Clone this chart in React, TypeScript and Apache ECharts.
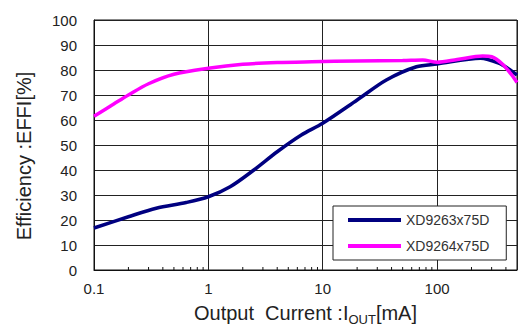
import React, { useEffect, useRef } from "react";
import * as echarts from "echarts";

const seriesNames = ["XD9263x75D", "XD9264x75D"];
const currentNavy = [0.1, 0.2, 0.35, 0.64, 1, 1.55, 2.5, 4, 6.5, 10, 20, 36, 66, 100, 240, 350, 420, 500];
const effNavy = [16.8, 21.3, 24.7, 27, 29.3, 33.3, 40, 47.3, 54, 58.7, 68, 76, 81.3, 82.4, 84.7, 82.7, 80.5, 78];
const currentPink = [0.1, 0.15, 0.2, 0.3, 0.5, 1, 2, 4, 8, 20, 50, 75, 100, 150, 250, 300, 370, 450, 500];
const effPink = [61.5, 66.5, 70, 74.5, 78.3, 80.7, 82.3, 83, 83.3, 83.6, 83.8, 84, 83.1, 84.2, 85.6, 85.3, 82.5, 78, 75];
const xTickLabels = [0.1, 1, 10, 100];
const minorTicks = [0.2, 0.3, 0.4, 0.5, 0.6, 0.7, 0.8, 0.9, 2, 3, 4, 5, 6, 7, 8, 9, 20, 30, 40, 50, 60, 70, 80, 90, 200, 300, 400];

const FONT = "'Liberation Sans', Arial, sans-serif";

export default function App() {
  const ref = useRef<HTMLDivElement>(null);
  useEffect(() => {
    if (!ref.current) return;
    const chart = echarts.init(ref.current, undefined, { renderer: "svg" });
    const navy = currentNavy.map((x, i) => [x, effNavy[i]]);
    const pink = currentPink.map((x, i) => [x, effPink[i]]);
    chart.setOption({
      animation: false,
      textStyle: { fontFamily: FONT },
      grid: {
        left: 94, right: 5, top: 20, bottom: 57,
        outerBoundsMode: "none", containLabel: false,
        show: true, borderColor: "#111", borderWidth: 1, backgroundColor: "#fff",
      },
      legend: {
        data: seriesNames,
        orient: "vertical",
        left: 333,
        top: 206,
        padding: [7, 17, 7, 15],
        itemGap: 12,
        itemWidth: 53,
        itemHeight: 4,
        icon: "rect",
        borderColor: "#222",
        borderWidth: 1,
        backgroundColor: "#fff",
        textStyle: { fontFamily: FONT, fontSize: 14, color: "#333" },
      },
      xAxis: {
        type: "log",
        logBase: 10,
        min: 0.1,
        max: 500,
        interval: 1,
        name: "{a|Output  Current :I}{s|OUT}{a|[mA]}",
        nameLocation: "middle",
        nameGap: 27,
        nameTextStyle: {
          rich: {
            a: { fontFamily: FONT, fontSize: 20, color: "#222", lineHeight: 24 },
            s: { fontFamily: FONT, fontSize: 13, color: "#222", lineHeight: 12, padding: [12, 0, 0, 0] },
          },
        },
        axisLine: { show: true, lineStyle: { color: "#111", width: 1 } },
        axisTick: { show: false },
        axisLabel: {
          fontFamily: FONT,
          fontSize: 15,
          color: "#222",
          margin: 11,
          showMaxLabel: false,
          formatter: (v: number) => {
            const m = xTickLabels.find((t) => Math.abs(t - v) / t < 1e-6);
            return m !== undefined ? String(m) : "";
          },
        },
        splitLine: { show: true, lineStyle: { color: "#222", width: 1 } },
      },
      yAxis: {
        type: "value",
        min: 0,
        max: 100,
        interval: 10,
        name: "Efficiency :EFFI[%]",
        nameLocation: "middle",
        nameGap: 60,
        nameRotate: 90,
        nameTextStyle: { fontFamily: FONT, fontSize: 20, color: "#222", padding: [0, 22, 0, 0] },
        axisLine: { show: true, lineStyle: { color: "#111", width: 1 } },
        axisTick: { show: false },
        axisLabel: { fontFamily: FONT, fontSize: 15, color: "#222", margin: 17 },
        splitLine: { show: true, lineStyle: { color: "#222", width: 1 } },
      },
      series: [
        {
          name: seriesNames[0],
          type: "line",
          data: navy,
          smooth: 0.3,
          symbol: "none",
          lineStyle: { color: "#000080", width: 3.5 },
          itemStyle: { color: "#000080" },
          z: 3,
        },
        {
          name: seriesNames[1],
          type: "line",
          data: pink,
          smooth: 0.3,
          symbol: "none",
          lineStyle: { color: "#ff00ff", width: 3.5 },
          itemStyle: { color: "#ff00ff" },
          z: 4,
        },
        {
          name: "minor",
          type: "custom",
          data: minorTicks.map((v) => [v, 0]),
          silent: true,
          renderItem: (_p: any, api: any) => {
            const pt = api.coord([api.value(0), 0]);
            return {
              type: "line",
              shape: { x1: pt[0], y1: pt[1], x2: pt[0], y2: pt[1] - 3 },
              style: { stroke: "#111", lineWidth: 1 },
            };
          },
          z: 2,
        },
      ],
    });
    return () => chart.dispose();
  }, []);
  return <div ref={ref} style={{ width: 522, height: 327, position: "absolute", left: 0, top: 0 }} />;
}
